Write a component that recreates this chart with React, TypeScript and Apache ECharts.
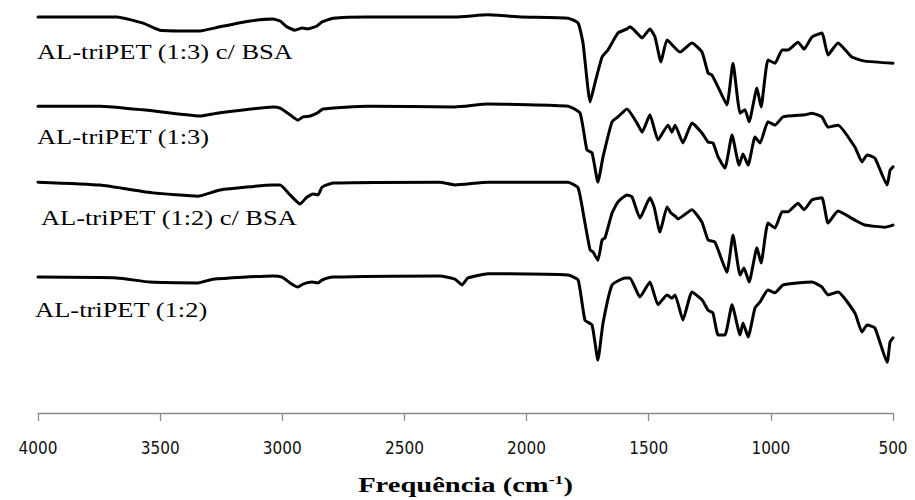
import React, { useEffect, useRef } from "react";
import * as echarts from "echarts";

// wavenumber (cm-1) and transmittance (a.u., stacked) pairs
const seriesNames = [
  "AL-triPET (1:3) c/ BSA",
  "AL-triPET (1:3)",
  "AL-triPET (1:2) c/ BSA",
  "AL-triPET (1:2)",
];

const spec13BSA: [number, number][] = [
  [4000, 95.9], [3677, 95.9], [3570, 94.4], [3501, 92.7], [3337, 92.5], [3255, 93.5],
  [3132, 94.9], [3038, 95.4], [3009, 94.9], [2981, 93.5], [2948, 92.7], [2919, 93.2],
  [2895, 93.0], [2858, 93.7], [2837, 94.7], [2792, 95.6], [2653, 95.9], [2293, 95.9],
  [2158, 96.4], [2019, 95.9], [1830, 95.6], [1789, 94.4], [1769, 89.6], [1740, 75.3],
  [1720, 79.9], [1691, 86.2], [1667, 87.9], [1626, 92.0], [1589, 93.0], [1577, 93.5],
  [1548, 92.0], [1527, 90.8], [1495, 93.0], [1474, 91.0], [1450, 85.0], [1425, 90.3],
  [1372, 87.4], [1323, 89.6], [1282, 87.4], [1257, 82.3], [1241, 81.8], [1216, 78.9],
  [1180, 74.6], [1155, 84.7], [1126, 72.6], [1106, 73.4], [1089, 70.5], [1057, 78.7],
  [1040, 74.1], [1012, 85.5], [983, 84.7], [954, 87.9], [930, 87.9], [889, 89.8],
  [864, 88.1], [832, 91.0], [791, 92.0], [766, 86.7], [725, 89.6], [668, 86.2],
  [615, 85.2], [500, 84.7],
];

const spec13: [number, number][] = [
  [4000, 74.3], [3746, 74.3], [3570, 73.4], [3337, 71.9], [3267, 72.6], [3038, 74.1],
  [3009, 73.8], [2968, 72.2], [2936, 70.9], [2915, 71.7], [2886, 71.9], [2858, 72.6],
  [2833, 73.6], [2653, 74.3], [2293, 74.1], [2158, 74.8], [1830, 74.3], [1781, 72.6],
  [1753, 63.7], [1732, 63.0], [1708, 55.9], [1687, 62.0], [1650, 70.5], [1626, 71.7],
  [1589, 73.6], [1548, 70.2], [1527, 68.0], [1495, 72.2], [1462, 66.1], [1421, 69.7],
  [1405, 68.0], [1392, 69.7], [1360, 65.4], [1323, 70.2], [1282, 67.8], [1257, 65.6],
  [1237, 65.4], [1216, 62.0], [1188, 59.3], [1159, 67.3], [1130, 60.0], [1114, 62.7],
  [1093, 60.0], [1065, 66.8], [1044, 65.4], [1012, 70.5], [983, 69.7], [950, 71.7],
  [860, 72.2], [832, 72.6], [791, 71.7], [766, 69.2], [725, 69.7], [656, 64.4],
  [627, 60.8], [606, 62.5], [574, 61.7], [524, 55.2], [512, 58.8], [500, 59.6],
];

const spec12BSA: [number, number][] = [
  [4000, 55.9], [3746, 55.2], [3529, 53.3], [3345, 52.5], [3255, 54.0], [3038, 55.2],
  [3009, 55.2], [2968, 52.8], [2927, 50.6], [2899, 52.3], [2874, 53.0], [2854, 52.8],
  [2837, 54.7], [2792, 55.7], [2355, 55.9], [2293, 55.2], [2158, 55.9], [2019, 55.9],
  [1830, 55.9], [1789, 54.5], [1761, 46.0], [1740, 39.5], [1728, 39.0], [1708, 37.0],
  [1691, 41.9], [1679, 42.4], [1650, 48.4], [1626, 51.1], [1589, 52.8], [1568, 52.3],
  [1536, 47.2], [1495, 52.1], [1478, 49.9], [1454, 43.8], [1425, 49.9], [1409, 48.4],
  [1392, 47.7], [1380, 47.0], [1323, 49.2], [1282, 46.2], [1257, 41.9], [1229, 41.4],
  [1180, 34.1], [1155, 43.1], [1126, 33.4], [1110, 35.1], [1089, 31.7], [1057, 40.0],
  [1040, 36.3], [1012, 46.0], [983, 44.8], [954, 48.7], [930, 48.7], [889, 50.8],
  [864, 49.2], [832, 51.6], [791, 52.1], [766, 46.0], [725, 48.9], [656, 46.7],
  [615, 45.5], [533, 45.0], [500, 45.5],
];

const spec12: [number, number][] = [
  [4000, 32.9], [3677, 32.7], [3541, 31.7], [3345, 31.5], [3284, 32.4], [3038, 33.2],
  [3001, 32.9], [2968, 31.5], [2936, 30.5], [2915, 31.2], [2878, 31.7], [2854, 31.5],
  [2837, 32.2], [2792, 32.9], [2355, 33.2], [2293, 32.4], [2264, 31.0], [2240, 32.7],
  [2158, 33.7], [1830, 33.4], [1789, 32.2], [1761, 22.5], [1732, 21.3], [1708, 12.8],
  [1687, 21.8], [1650, 31.0], [1597, 32.7], [1577, 32.7], [1536, 28.1], [1495, 31.7],
  [1462, 26.2], [1425, 28.6], [1405, 27.8], [1392, 28.6], [1360, 22.5], [1323, 29.3],
  [1282, 27.4], [1257, 24.9], [1237, 24.2], [1216, 18.9], [1188, 18.9], [1159, 26.2],
  [1126, 18.9], [1114, 21.8], [1093, 18.4], [1065, 25.4], [1044, 26.9], [1012, 29.8],
  [983, 29.1], [950, 31.0], [832, 31.7], [791, 30.5], [766, 28.6], [725, 29.3],
  [656, 24.2], [627, 19.6], [606, 21.3], [574, 20.6], [524, 12.3], [512, 17.2],
  [500, 18.2],
];

const spectra = [spec13BSA, spec13, spec12BSA, spec12];
// label anchor: wavenumber at left edge, transmittance at text middle
const labelAnchors: [number, number][] = [
  [4004, 87.4],
  [4004, 66.8],
  [3988, 47.2],
  [4012, 24.9],
];
const xTicks = { min: 500, max: 4000, interval: 500 };
const axisTitle = ["Frequência (cm", "-1", ")"];

export default function App() {
  const ref = useRef<HTMLDivElement>(null);
  useEffect(() => {
    if (!ref.current) return;
    const chart = echarts.init(ref.current, null, { renderer: "svg" });
    const option: any = {
      animation: false,
      backgroundColor: "#ffffff",
      grid: { left: 38, right: 22, top: 0, bottom: 87, containLabel: false },
      xAxis: {
        type: "value",
        inverse: true,
        min: xTicks.min,
        max: xTicks.max,
        interval: xTicks.interval,
        splitLine: { show: false },
        axisLine: { show: true, lineStyle: { color: "#8c8c8c", width: 1.3 } },
        axisTick: { show: true, inside: false, length: 8, lineStyle: { color: "#8c8c8c", width: 1.3 } },
        axisLabel: {
          margin: 26,
          color: "#111",
          fontSize: 17,
          fontFamily: "'DejaVu Sans Condensed', 'DejaVu Sans', sans-serif",
          formatter: (v: number) => String(v),
        },
      },
      yAxis: { type: "value", min: 0, max: 100, show: false },
      series: spectra.map((d, i) => ({
        type: "line",
        name: seriesNames[i],
        data: d,
        showSymbol: false,
        lineStyle: { color: "#000", width: 3, join: "round", cap: "round" },
        smooth: 0.15,
        z: 2,
      })),
    };
    chart.setOption(option);
    const graphics: any[] = labelAnchors.map((a, i) => {
      const p = chart.convertToPixel({ gridIndex: 0 }, a) as number[];
      return {
        type: "text",
        x: p[0],
        y: p[1],
        scaleX: 1.26,
        style: {
          text: seriesNames[i],
          fontFamily: "'Liberation Serif', 'Times New Roman', serif",
          fontSize: 21,
          fill: "#000",
          textAlign: "left",
          textVerticalAlign: "middle",
        },
      };
    });
    const mid = chart.convertToPixel({ gridIndex: 0 }, [(xTicks.min + xTicks.max) / 2, 0]) as number[];
    graphics.push({
      type: "text",
      x: mid[0],
      y: 485,
      scaleX: 1.36,
      style: {
        text: `{a|${axisTitle[0]}}{s|${axisTitle[1]}}{a|${axisTitle[2]}}`,
        textAlign: "center",
        textVerticalAlign: "middle",
        rich: {
          a: { fontFamily: "'Liberation Serif', serif", fontWeight: "bold", fontSize: 21, fill: "#000", lineHeight: 24 },
          s: { fontFamily: "'Liberation Serif', serif", fontWeight: "bold", fontSize: 13, fill: "#000", verticalAlign: "top", lineHeight: 24 },
        },
      },
    });
    chart.setOption({ graphic: graphics });
    return () => chart.dispose();
  }, []);
  return (
    <div
      ref={ref}
      style={{ position: "fixed", left: 0, top: 0, width: 915, height: 500, background: "#fff" }}
    />
  );
}
